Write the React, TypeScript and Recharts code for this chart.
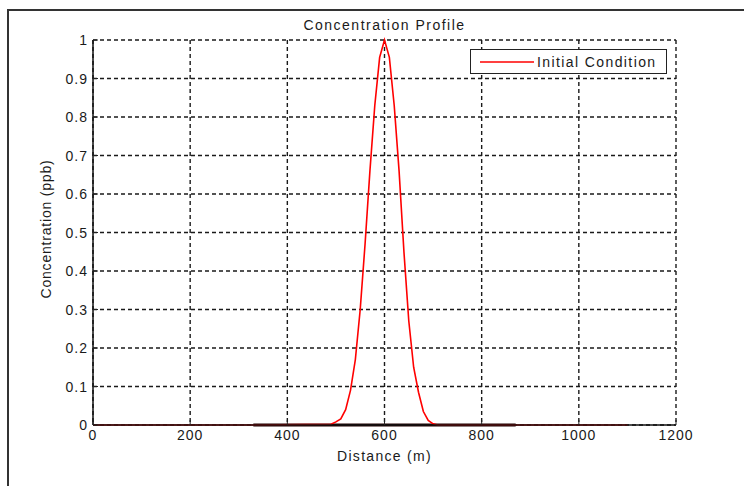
import React from 'react';
import { LineChart, Line, XAxis, YAxis, CartesianGrid, Legend } from 'recharts';

const distance = [0, 330, 490, 500, 510, 520, 530, 540, 550, 560, 570, 580, 590, 600, 610, 620, 630, 640, 650, 660, 670, 680, 690, 700, 710, 870, 1100];
const concentration = [0, 0, 0.002, 0.008, 0.016, 0.04, 0.09, 0.17, 0.3, 0.47, 0.66, 0.83, 0.955, 1.0, 0.955, 0.83, 0.66, 0.45, 0.27, 0.15, 0.085, 0.035, 0.012, 0.003, 0, 0, 0];
const baselineDistance = [330, 870];
const baselineValue = [0, 0];
const xTicks = [0, 200, 400, 600, 800, 1000, 1200];
const yTicks = [0, 0.1, 0.2, 0.3, 0.4, 0.5, 0.6, 0.7, 0.8, 0.9, 1];
const yTickLabels = ['0', '0.1', '0.2', '0.3', '0.4', '0.5', '0.6', '0.7', '0.8', '0.9', '1'];

const data = distance.map((d, i) => ({ distance: d, concentration: concentration[i] }));
const baselineData = baselineDistance.map((d, i) => ({ distance: d, baseline: baselineValue[i] }));

const FONT = '"Liberation Sans", Arial, sans-serif';
const TXT = '#1a1a1a';

const XTick = (props: any) => {
  const { x, y, payload } = props;
  return (
    <g>
      <line x1={x} y1={y - 5} x2={x} y2={y - 10} stroke="#222" strokeWidth={1} />
      <text x={x} y={y + 10} textAnchor="middle" fontFamily={FONT} fontSize={14} letterSpacing={1} fill={TXT}>
        {payload.value}
      </text>
    </g>
  );
};

const YTick = (props: any) => {
  const { x, y, payload, index } = props;
  return (
    <g>
      <line x1={x + 5} y1={y} x2={x + 10} y2={y} stroke="#222" strokeWidth={1} />
      <text x={x} y={y + 5} textAnchor="end" fontFamily={FONT} fontSize={14} letterSpacing={1} fill={TXT}>
        {yTickLabels[index] ?? payload.value}
      </text>
    </g>
  );
};

const LegendBox = (props: any) => {
  const items = (props.payload || []).filter((p: any) => p.value === 'Initial Condition');
  return (
    <div style={{ width: 195, height: 23, border: '1.5px solid #222', background: '#fff', display: 'flex', alignItems: 'center', boxSizing: 'content-box' }}>
      {items.map((p: any) => (
        <div key={p.value} style={{ display: 'flex', alignItems: 'center' }}>
          <svg width={66} height={10} style={{ display: 'block' }}>
            <line x1={9} y1={5} x2={63} y2={5} stroke="#ff0000" strokeWidth={1.5} />
          </svg>
          <span style={{ fontFamily: FONT, fontSize: 14, letterSpacing: 1.4, color: TXT, lineHeight: '16px' }}>{p.value}</span>
        </div>
      ))}
    </div>
  );
};

export default function App() {
  return (
    <div style={{ position: 'absolute', left: 0, top: 0, width: 744, height: 486, overflow: 'hidden', background: '#fff' }}>
      <div style={{ position: 'absolute', left: 7, top: 9, width: 780, height: 520, border: '2px solid #333' }} />
      <div style={{ position: 'absolute', left: 0, top: 0 }}>
        <LineChart width={744} height={486} data={data} margin={{ top: 40, right: 68, bottom: 0, left: 0 }}>
          <CartesianGrid stroke="#1a1a1a" strokeDasharray="4 3" strokeWidth={1.4} />
          <XAxis
            dataKey="distance"
            type="number"
            domain={[0, 1200]}
            ticks={xTicks}
            height={61}
            tickSize={0}
            tickMargin={5}
            tick={<XTick />}
            axisLine={{ stroke: '#111', strokeWidth: 1.5 }}
            tickLine={false}
            allowDataOverflow
          />
          <XAxis xAxisId="top" orientation="top" type="number" domain={[0, 1200]} height={0} tick={false} tickLine={false} axisLine={{ stroke: '#111', strokeWidth: 1.5 }} />
          <YAxis
            type="number"
            domain={[0, 1]}
            ticks={yTicks}
            width={93}
            tickSize={0}
            tickMargin={5}
            tick={<YTick />}
            axisLine={{ stroke: '#111', strokeWidth: 1.5 }}
            tickLine={false}
          />
          <YAxis yAxisId="right" orientation="right" type="number" domain={[0, 1]} width={0} tick={false} tickLine={false} axisLine={{ stroke: '#111', strokeWidth: 1.5 }} />
          <Legend
            content={<LegendBox />}
            layout="horizontal"
            verticalAlign="middle"
            align="center"
            wrapperStyle={{ position: 'absolute', left: 470, top: 49, width: 200, height: 26 }}
          />
          <Line
            data={baselineData}
            dataKey="baseline"
            stroke="#200000"
            strokeWidth={3}
            dot={false}
            legendType="none"
            isAnimationActive={false}
          />
          <Line
            type="linear"
            dataKey="concentration"
            name="Initial Condition"
            stroke="#ff0000"
            strokeWidth={1.6}
            dot={false}
            isAnimationActive={false}
          />
        </LineChart>
      </div>
      <div style={{ position: 'absolute', left: 93, width: 583, top: 17, textAlign: 'center', fontFamily: FONT, fontSize: 14, letterSpacing: 1.5, lineHeight: '16px', color: TXT }}>
        Concentration Profile
      </div>
      <div style={{ position: 'absolute', left: 93, width: 583, top: 448, textAlign: 'center', fontFamily: FONT, fontSize: 14, letterSpacing: 1.3, lineHeight: '16px', color: TXT }}>
        Distance (m)
      </div>
      <div style={{ position: 'absolute', left: 46, top: 229, width: 0, height: 0 }}>
        <div style={{ position: 'absolute', left: -100, top: -8, width: 200, textAlign: 'center', transform: 'rotate(-90deg)', fontFamily: FONT, fontSize: 14, letterSpacing: 0.8, lineHeight: '16px', color: TXT, whiteSpace: 'nowrap' }}>
          Concentration (ppb)
        </div>
      </div>
    </div>
  );
}
